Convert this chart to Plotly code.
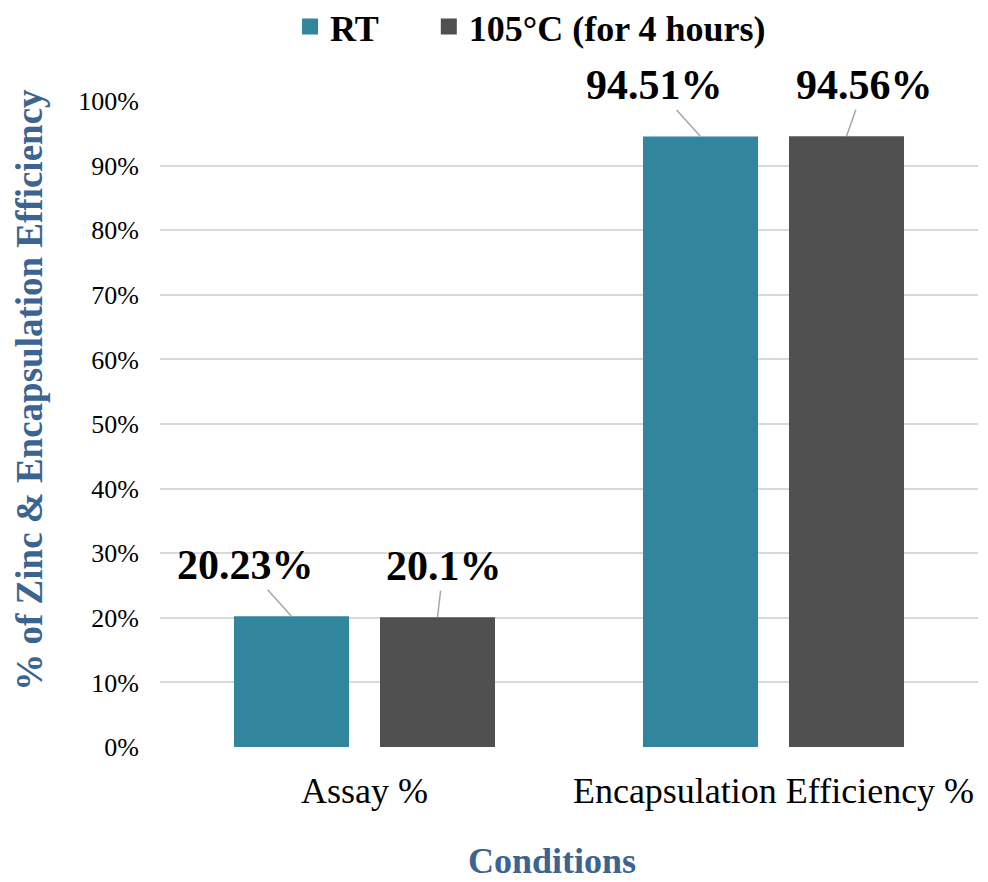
import plotly.graph_objects as go

categories = ["Assay %", "Encapsulation Efficiency %"]
series_names = ["RT", "105°C (for 4 hours)"]
rt_values = [20.23, 94.51]
heated_values = [20.1, 94.56]
rt_labels = ["20.23%", "94.51%"]
heated_labels = ["20.1%", "94.56%"]
y_tickvals = list(range(0, 101, 10))
y_ticktext = [f"{v}%" for v in y_tickvals]

FONT = "Liberation Serif, Times New Roman, serif"
TEAL = "#31859C"
GRAY = "#505050"
BLUE = "#3B6491"
colors = [TEAL, GRAY]

fig = go.Figure()
for name, vals, col in zip(series_names, [rt_values, heated_values], colors):
    fig.add_trace(go.Bar(name=name, x=categories, y=vals, showlegend=False,
                         marker=dict(color=col, line=dict(width=0))))
# legend entries with larger square swatches
pads = ["\u00a0" * 5, ""]
for name, col, pad in zip(series_names, colors, pads):
    fig.add_trace(go.Scatter(name=f"<b>{name}</b>{pad}", x=[None], y=[None], mode="markers",
                             marker=dict(symbol="square", size=19, color=col)))

annotations = []
for vals, labels, shift, dxs in [
    (rt_values, rt_labels, -73, [-46, -46]),
    (heated_values, heated_labels, 73, [6, 18]),
]:
    for i, (c, v, t) in enumerate(zip(categories, vals, labels)):
        annotations.append(dict(
            x=c, y=v, xref="x", yref="y", xshift=shift,
            text=f"<b>{t}</b>", showarrow=True, arrowhead=0, arrowwidth=1.5,
            arrowcolor="#A6A6A6", ax=dxs[i], ay=-51, standoff=0,
            font=dict(family=FONT, size=42, color="black"),
        ))

annotations.append(dict(
    text="<b>% of Zinc & Encapsulation Efficiency</b>", xref="paper", yref="paper",
    x=-0.159, y=0.553, xanchor="center", yanchor="middle", textangle=-90, showarrow=False,
    font=dict(family=FONT, size=37, color=BLUE),
))
annotations.append(dict(
    text="<b>Conditions</b>", xref="paper", yref="paper",
    x=0.479, y=-0.176, xanchor="center", yanchor="middle", showarrow=False,
    font=dict(family=FONT, size=36, color=BLUE),
))

fig.update_layout(
    width=988, height=882,
    margin=dict(l=160, r=10, t=101, b=135, autoexpand=False),
    plot_bgcolor="white", paper_bgcolor="white",
    barmode="group", bargap=0.286, bargroupgap=0.2123,
    font=dict(family=FONT, color="black"),
    legend=dict(orientation="h", x=0.159, xanchor="left", y=1.115, yanchor="middle",
                font=dict(family=FONT, size=36, color="black"),
                itemwidth=30, tracegroupgap=0, bgcolor="rgba(0,0,0,0)"),
    annotations=annotations,
)
fig.update_yaxes(range=[0, 100], tickvals=y_tickvals, ticktext=y_ticktext,
                 showgrid=True, gridcolor="#D9D9D9", gridwidth=1.5,
                 zeroline=False, showline=False, ticks="",
                 ticklabelstandoff=20,
                 tickfont=dict(family=FONT, size=26, color="black"))
fig.update_xaxes(showgrid=False, showline=False, ticks="",
                 ticklabelstandoff=19,
                 tickfont=dict(family=FONT, size=36, color="black"))

fig.write_html("out.html")
